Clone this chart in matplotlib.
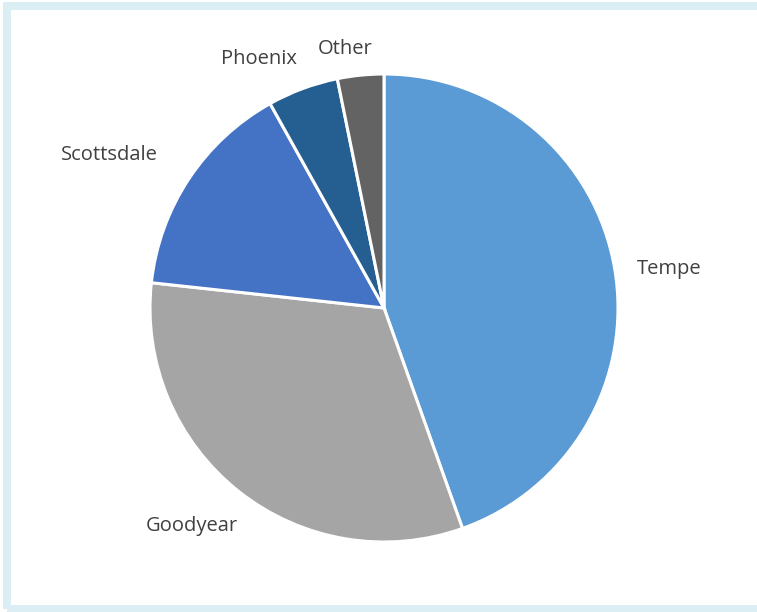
import matplotlib
matplotlib.use("Agg")
import matplotlib.pyplot as plt
from matplotlib.patches import Rectangle
import numpy as np

categories = ["Tempe", "Goodyear", "Scottsdale", "Phoenix", "Other"]
values = [44.6, 32.2, 15.2, 4.9, 3.2]
colors = ["#5B9BD5", "#A5A5A5", "#4472C4", "#255E91", "#636363"]

# label nudges (in pie-radius units), style only
label_nudge = {
    "Tempe": (0.037, -0.038),
    "Goodyear": (-0.078, 0.008),
    "Scottsdale": (-0.173, -0.009),
    "Phoenix": (-0.116, -0.06),
    "Other": (-0.044, -0.085),
}

W, H = 757, 612
fig = plt.figure(figsize=(W / 100, H / 100), dpi=100)
fig.patch.set_facecolor("white")

cx, cy, r = 384, 308, 234
ax = fig.add_axes([(cx - r) / W, (H - cy - r) / H, 2 * r / W, 2 * r / H])
wedges, texts = ax.pie(
    values, labels=categories, colors=colors, startangle=90, counterclock=False,
    radius=1.0, labeldistance=1.2,
    wedgeprops=dict(edgecolor="white", linewidth=2.2),
    textprops=dict(fontsize=14.5, color="#404040", family=["Open Sans", "DejaVu Sans"]),
)
for w, t in zip(wedges, texts):
    t.set_ha("center")
    t.set_va("center")
    x, y = t.get_position()
    dx, dy = label_nudge[t.get_text()]
    t.set_position((x + dx, y + dy))
ax.set_xlim(-1, 1)
ax.set_ylim(-1, 1)
ax.set_aspect("equal")
ax.axis("off")

# frame border
lw_px = 8
fig.add_artist(Rectangle((7 / W, 3 / H), (W + 20) / W, (H - 3 - 6) / H,
                         transform=fig.transFigure, fill=False,
                         edgecolor="#DAEEF4", linewidth=lw_px * 0.72, zorder=-1))

fig.savefig("out.png", dpi=100, facecolor="white")
